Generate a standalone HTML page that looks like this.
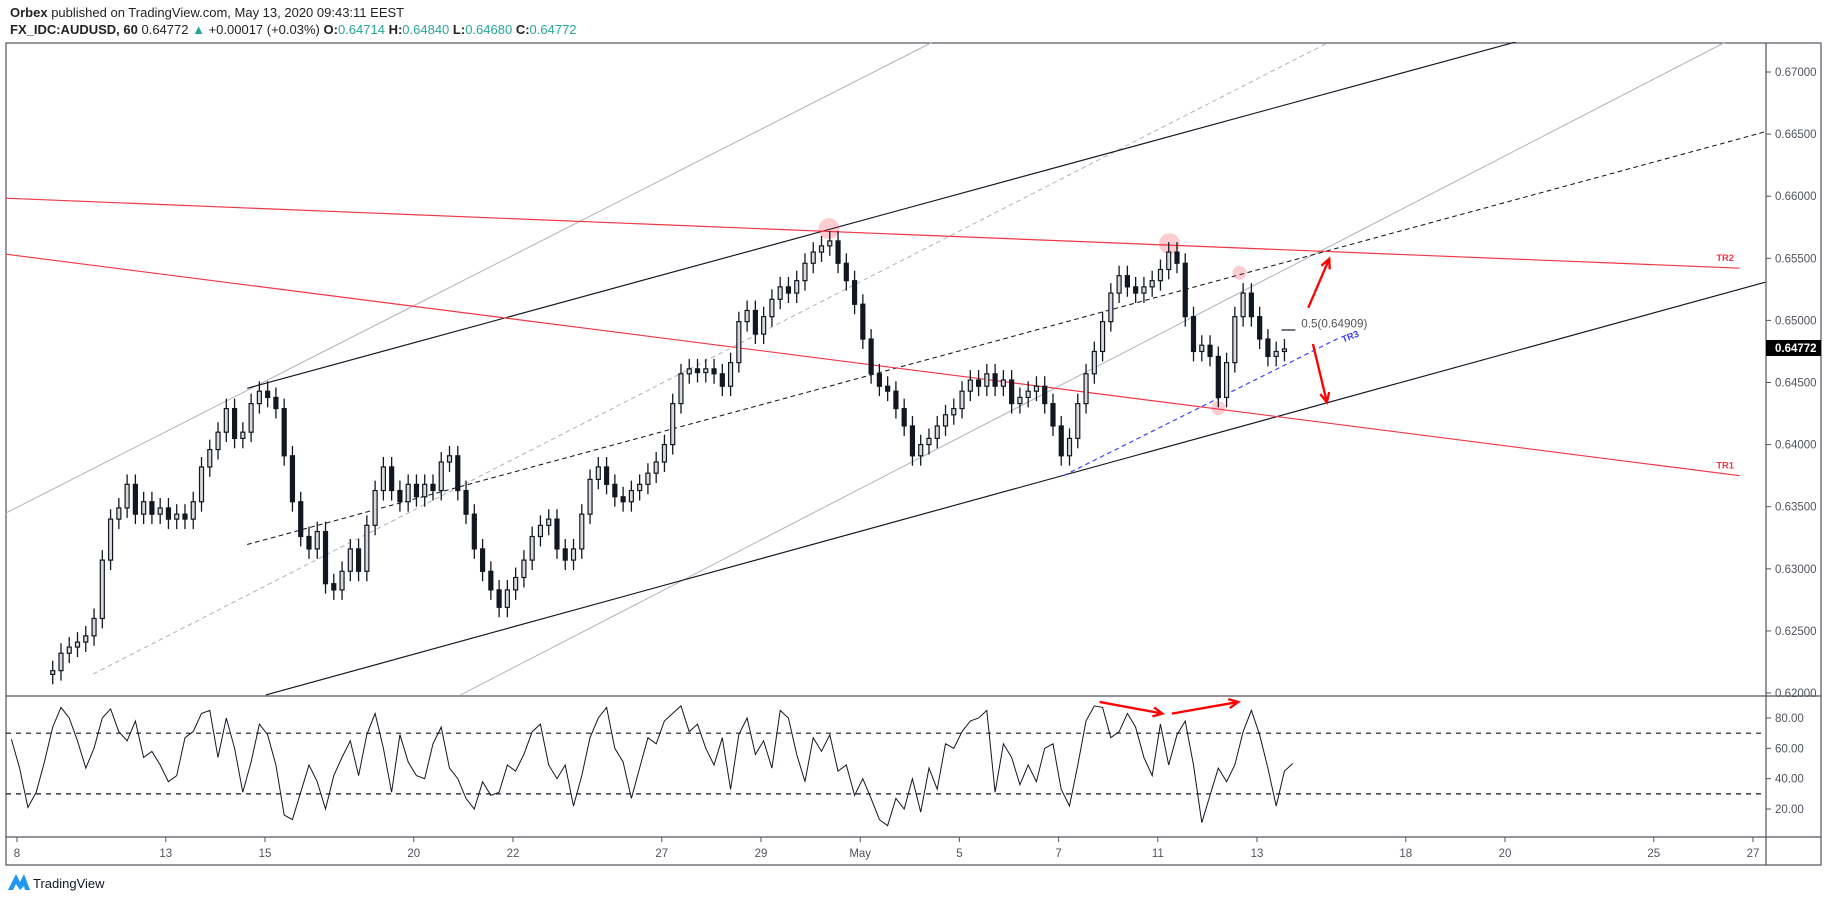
<!DOCTYPE html>
<html><head><meta charset="utf-8">
<style>
html,body{margin:0;padding:0;background:#fff;}
body{width:1828px;height:898px;overflow:hidden;position:relative;font-family:"Liberation Sans",sans-serif;}
.hdr{position:absolute;left:10px;font-size:13px;color:#222;white-space:nowrap;}
.hdr b{font-weight:bold;}
.g{color:#26a69a;}
svg{position:absolute;left:0;top:0;}
</style></head>
<body>
<div class="hdr" style="top:5px"><b>Orbex</b> published on TradingView.com, May 13, 2020 09:43:11 EEST</div>
<div class="hdr" style="top:22px"><b>FX_IDC:AUDUSD, 60</b> 0.64772 <span class="g">▲</span> +0.00017 (+0.03%) <b>O:</b><span class="g">0.64714</span> <b>H:</b><span class="g">0.64840</span> <b>L:</b><span class="g">0.64680</span> <b>C:</b><span class="g">0.64772</span></div>
<svg id="chart" width="1828" height="898"></svg>
<script>
const closes=[.6218,.6232,.6237,.6241,.6246,.6260,.6307,.6340,.6349,.6368,.6344,.6354,.6344,.6349,.6340,.6344,.6340,.6354,.6382,.6396,.6410,.6429,.6405,.6410,.6433,.6443,.6438,.6429,.6391,.6354,.6326,.6316,.6330,.6288,.6283,.6298,.6316,.6298,.6335,.6363,.6382,.6363,.6354,.6368,.6358,.6368,.6363,.6386,.6391,.6363,.6344,.6316,.6298,.6283,.6269,.6283,.6293,.6307,.6326,.6335,.6340,.6316,.6307,.6316,.6344,.6372,.6382,.6368,.6358,.6354,.6363,.6368,.6377,.6386,.6400,.6433,.6457,.6461,.6458,.6461,.6457,.6447,.6466,.6499,.6508,.6489,.6503,.6517,.6527,.6522,.6532,.6546,.6555,.6560,.6564,.6546,.6532,.6513,.6485,.6457,.6447,.6443,.6429,.6415,.6391,.6400,.6405,.6415,.6424,.6429,.6443,.6452,.6447,.6457,.6447,.6452,.6433,.6438,.6443,.6447,.6433,.6415,.6391,.6405,.6433,.6457,.6475,.6499,.6522,.6536,.6527,.6522,.6527,.6532,.6541,.6555,.6546,.6503,.6475,.6480,.6471,.6438,.6466,.6503,.6522,.6503,.6485,.6471,.6475,.6477];
const rsiValues=[66,47,21,31,51,74,87,80,65,47,60,80,86,71,65,78,54,58,49,38,42,67,71,83,85,54,80,60,31,51,76,69,49,16,13,31,49,38,20,42,54,65,42,69,83,60,31,69,51,42,40,63,74,47,40,27,20,38,29,31,49,45,56,71,76,49,40,49,22,42,67,80,87,60,51,27,47,67,63,78,83,88,71,76,60,49,67,33,69,80,56,65,47,85,80,56,38,67,58,69,45,49,29,40,27,13,9,27,20,40,18,47,33,63,60,71,78,80,85,31,63,54,36,49,38,60,63,33,22,49,78,88,87,67,71,83,74,54,42,76,49,69,78,49,11,29,47,38,49,71,85,69,47,22,45,50];
const priceTicks=["0.67000","0.66500","0.66000","0.65500","0.65000","0.64500","0.64000","0.63500","0.63000","0.62500","0.62000"];
const priceTickValues=[0.67,0.665,0.66,0.655,0.65,0.645,0.64,0.635,0.63,0.625,0.62];
const rsiTicks=["80.00","60.00","40.00","20.00"];
const rsiTickValues=[80,60,40,20];
const dateLabels=["8","13","15","20","22","27","29","May","5","7","11","13","18","20","25","27"];
const dateDays=[0,3,5,8,10,13,15,17,19,21,23,25,28,30,33,35];
const startDay=0.72, stepDay=1/6, rsiOffset=-5, lastPrice=0.64772;

const NS="http://www.w3.org/2000/svg";
const svg=document.getElementById('chart');
function mk(tag,attrs,parent){const e=document.createElementNS(NS,tag);for(const k in attrs)e.setAttribute(k,attrs[k]);(parent||svg).appendChild(e);return e;}
const xOfDay=d=>17+d*49.6;
const yP=p=>72+(0.67-p)/0.005*62.1;
const yR=v=>718+(80-v)*1.517;
const xK=k=>xOfDay(startDay+k*stepDay);

let e;
e=mk('rect',{x:6,y:43,width:1815,height:822,fill:'none',stroke:'#50535e','stroke-width':1.2});

e=mk('line',{x1:1766,y1:43,x2:1766,y2:865,stroke:'#50535e','stroke-width':1.2});

e=mk('line',{x1:6,y1:696,x2:1821,y2:696,stroke:'#50535e','stroke-width':1.2});

e=mk('line',{x1:6,y1:837,x2:1821,y2:837,stroke:'#50535e','stroke-width':1.2});


priceTickValues.forEach((v,i)=>{const y=yP(v);
 e=mk('line',{x1:1766,y1:y,x2:1771,y2:y,stroke:'#50535e'});
 
 e=mk('text',{x:1775,y:y+4,'font-size':11.5,fill:'#50535e','font-family':'Liberation Sans'});
 e.textContent=priceTicks[i];
 
});
rsiTickValues.forEach((v,i)=>{const y=yR(v);
 e=mk('line',{x1:1766,y1:y,x2:1771,y2:y,stroke:'#50535e'});
 
 e=mk('text',{x:1775,y:y+4,'font-size':11.5,fill:'#50535e'});
 e.textContent=rsiTicks[i];
 
});
dateDays.forEach((d,i)=>{const x=xOfDay(d);
 e=mk('line',{x1:x,y1:837,x2:x,y2:842,stroke:'#50535e'});
 
 e=mk('text',{x:x,y:857,'font-size':11.5,fill:'#50535e','text-anchor':'middle'});
 e.textContent=dateLabels[i];
 
});

const ann=mk('g',{transform:'scale(1.166)'});

const cp=mk('clipPath',{id:'pc'});mk('rect',{x:5,y:36,width:1509,height:561},cp);
const clipG=mk('g',{'clip-path':'url(#pc)'},ann);
function L(x1,y1,x2,y2,st,w,dash,name){const l=mk('line',{x1,y1,x2,y2,stroke:st,'stroke-width':w||1},clipG);if(dash)l.setAttribute('stroke-dasharray',dash);return l;}
L(5,440,800,36,'#b2b5be',0.9,null,'outer-upper-channel');
L(80,578,1140,36,'#b2b5be',0.9,'4 3','outer-mid-channel');
L(395,596,1480,36,'#b2b5be',0.9,null,'outer-lower-channel');
L(212,333,1300,36,'#131722',1,null,'upper-channel-line');
L(228,596,1514,242,'#131722',1,null,'lower-channel-line');
L(212,467,1514,113,'#131722',0.9,'4 3','channel-median-line');
L(5,170,1492,230,'#f23645',1,null,'tr2-trendline');
L(5,218,1492,408,'#f23645',1,null,'tr1-trendline');
L(912,408,1148,290,'#3d3df5',1,'4 3','tr3-trendline');
[[711,196,9],[1003,209,9],[1063,234,6],[1045,350,6]].forEach(c=>{const o=mk('circle',{cx:c[0],cy:c[1],r:c[2],fill:'rgba(242,54,69,0.25)'},ann);});

const cg=mk('g',{});
closes.forEach((c,k)=>{const o=k?closes[k-1]:c-0.0003;const x=xK(k);
 const hi=Math.max(o,c)+0.0008, lo=Math.min(o,c)-0.0008;
 e=mk('line',{x1:x,y1:yP(hi),x2:x,y2:yP(lo),stroke:'#131722','stroke-width':1.3},cg);
 
 const t=yP(Math.max(o,c)),b=yP(Math.min(o,c));
 e=mk('rect',{x:x-2,y:t,width:4,height:Math.max(1.5,b-t),fill:c>=o?'#d8d9dc':'#131722',stroke:'#131722','stroke-width':1.2},cg);
 
});

function T(x,y,s,fill,size,name,extra){const t=mk('text',Object.assign({x,y,fill,'font-size':size,'font-weight':'bold'},extra||{}),ann);t.textContent=s;return t;}
T(1472,224,'TR2','#f23645',8,'tr2-label');
T(1472,402,'TR1','#f23645',8,'tr1-label');
T(1152,294,'TR3','#3d3df5',8,'tr3-label',{transform:'rotate(-22 1152 294)'});
e=mk('line',{x1:1099,y1:283,x2:1111,y2:283,stroke:'#131722'},ann);
e=mk('text',{x:1116,y:281,fill:'#555','font-size':10},ann);e.textContent='0.5(0.64909)';
function arrow(x1,y1,x2,y2,name,parent){const g=mk('g',{stroke:'#ff0000','stroke-width':2,fill:'none'},parent||ann);
 mk('line',{x1,y1,x2,y2},g);const a=Math.atan2(y2-y1,x2-x1),h=9;
 mk('polyline',{points:`${x2-h*Math.cos(a-0.45)},${y2-h*Math.sin(a-0.45)} ${x2},${y2} ${x2-h*Math.cos(a+0.45)},${y2-h*Math.sin(a+0.45)}`},g);}
arrow(1122,264,1140,222,'up-arrow');
arrow(1126,295,1138,345,'down-arrow');

e=mk('rect',{x:1766,y:340,width:55,height:16,fill:'#000'});
e=mk('text',{x:1775,y:352,fill:'#fff','font-size':11.5,'font-weight':'bold'});e.textContent='0.64772';

[70,30].forEach(v=>{e=mk('line',{x1:6,y1:yR(v),x2:1766,y2:yR(v),stroke:'#131722','stroke-dasharray':'5 5','stroke-width':1.2});});
const pts=rsiValues.map((v,j)=>`${xK(j+rsiOffset).toFixed(1)},${yR(v).toFixed(1)}`).join(' ');
e=mk('polyline',{points:pts,fill:'none',stroke:'#131722','stroke-width':1});

arrow(943,602,997,612,'rsi-divergence-arrow-1');
arrow(1005,612,1062,602,'rsi-divergence-arrow-2');

const lg=mk('g',{});
mk('path',{d:'M8 890 L16 874 L20 882 L24 874 L30 890 L25 890 L24 886 L20 890 L16 884 L13 890 Z',fill:'#2196f3'},lg);
e=mk('text',{x:33,y:888,'font-size':13,fill:'#131722'},lg);e.textContent='TradingView';
</script>
</body></html>
